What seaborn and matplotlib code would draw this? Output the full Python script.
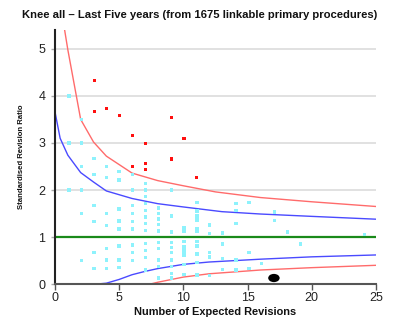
import matplotlib
matplotlib.use("Agg")
import matplotlib.pyplot as plt
from matplotlib.path import Path
from matplotlib.transforms import Affine2D
import seaborn as sns
import pandas as pd

sns.set_theme(style="white")
plt.rcParams['font.family'] = ['Liberation Sans', 'DejaVu Sans']

# ---- data ----
title = "Knee all \u2013 Last Five years (from 1675 linkable primary procedures)"
xlabel = "Number of Expected Revisions"
ylabel = "Standardised Revision Ratio"
xticks = [0, 5, 10, 15, 20, 25]
yticks = [0, 1, 2, 3, 4, 5]

# in-control units, grouped by column of expected revisions
cyan_cols = {
    1.1: [4.0, 3.0, 2.0],
    2.05: [3.5, 3.0, 2.5, 2.0, 1.5, 0.5],
    3.05: [2.67, 2.33, 1.67, 1.33, 0.67, 0.33],
    4.0: [2.5, 2.27, 1.5, 1.25, 0.76, 0.51, 0.33],
    5.0: [2.39, 2.21, 1.6, 1.34, 1.17, 0.81, 0.51, 0.35],
    6.05: [2.33, 2.0, 1.67, 1.5, 1.33, 1.17, 0.83, 0.67, 0.5],
    7.05: [2.14, 2.0, 1.86, 1.71, 1.57, 1.43, 1.29, 1.14, 0.86, 0.71, 0.57, 0.3],
    8.05: [1.62, 1.5, 1.38, 1.27, 1.13, 0.88, 0.76, 0.51, 0.38, 0.13],
    9.05: [2.0, 1.45, 1.11, 0.88, 0.78, 0.67, 0.51, 0.38, 0.23, 0.13],
    10.05: [1.2, 1.13, 0.9, 0.79, 0.7, 0.62, 0.42, 0.21],
    11.05: [1.73, 1.55, 1.45, 1.36, 1.18, 1.13, 0.91, 0.81, 0.64, 0.46, 0.19],
    12.05: [1.26, 1.08, 0.67, 0.58, 0.18],
    13.05: [1.09, 0.85, 0.55, 0.31],
    14.1: [1.71, 1.57, 1.29, 0.51, 0.3],
    15.1: [1.73, 0.67, 0.33],
    16.1: [0.44],
    17.1: [1.53, 1.35],
    18.1: [1.11],
    19.1: [0.85],
    24.1: [1.06],
}

# outlying units (above limits)
red_x = [3.05, 3.05, 4.0, 5.0, 6.05, 7.05, 9.05, 10.05, 9.05, 6.05, 7.05, 7.05, 11.05]
red_y = [4.32, 3.66, 3.74, 3.59, 3.16, 2.99, 3.54, 3.09, 2.66, 2.5, 2.57, 2.43, 2.27]

# highlighted unit
focus_x = [17.05]
focus_y = [0.13]

# control limits
red_up_x = [0.75, 1.0, 2.0, 3.0, 4.0, 6.0, 8.0, 10.0, 12.5, 16.0, 20.0, 25.0]
red_up_y = [5.4, 4.98, 3.5, 3.02, 2.72, 2.36, 2.2, 2.09, 1.96, 1.84, 1.75, 1.65]
blue_up_x = [0, 0.4, 1, 2, 3, 4, 6, 8, 10, 13, 16, 20, 25]
blue_up_y = [3.66, 3.1, 2.74, 2.37, 2.17, 1.98, 1.82, 1.71, 1.64, 1.54, 1.49, 1.44, 1.38]
blue_lo_x = [3.2, 4.0, 5, 6, 7, 8, 10, 12, 16, 20, 25]
blue_lo_y = [0, 0.02, 0.1, 0.2, 0.27, 0.33, 0.42, 0.47, 0.53, 0.58, 0.62]
red_lo_x = [7.4, 8, 10, 12, 16, 20, 25]
red_lo_y = [0, 0.04, 0.15, 0.22, 0.30, 0.35, 0.40]
target_x = [0, 25]
target_y = [1, 1]

# ---- build tables ----
cyan_df = pd.DataFrame(
    [(x, y) for x, ys in cyan_cols.items() for y in ys], columns=["x", "y"])
red_df = pd.DataFrame({"x": red_x, "y": red_y})

fig = plt.figure(figsize=(4, 3.3), dpi=100)
ax = fig.add_axes([0.1375, 0.139, 0.8025, 0.77])

for yy in [2, 3, 4, 5]:
    ax.plot([0, 25], [yy, yy], color="#dcdcdc", lw=1.2, zorder=0)

def line(xs, ys, color, lw):
    sns.lineplot(x=xs, y=ys, sort=False, estimator=None, color=color,
                 lw=lw, ax=ax, zorder=2)

line(red_up_x, red_up_y, "#ff6b6b", 1.0)
line(red_lo_x, red_lo_y, "#ff6b6b", 1.0)
line(blue_up_x, blue_up_y, "#4a4aff", 1.0)
line(blue_lo_x, blue_lo_y, "#4a4aff", 1.0)
line(target_x, target_y, "#1a8a1a", 1.6)

sns.scatterplot(data=cyan_df, x="x", y="y", marker="s", s=6, color="#8ef2fc",
                edgecolor="none", ax=ax, zorder=3)
sns.scatterplot(data=red_df, x="x", y="y", marker="s", s=5, color="#ff1010",
                edgecolor="none", ax=ax, zorder=3)
ellipse = Path.unit_circle().transformed(Affine2D().scale(1.0, 0.72))
sns.scatterplot(x=focus_x, y=focus_y, marker=ellipse, s=68, color="black",
                edgecolor="none", ax=ax, zorder=4)

ax.set_xlim(0, 25)
ax.set_ylim(0, 5.4)
ax.set_xticks(xticks)
ax.set_yticks(yticks)
ax.set_xlabel("")
ax.set_ylabel("")
for s in ["top", "right"]:
    ax.spines[s].set_visible(False)
ax.spines["left"].set_color("#222222")
ax.spines["left"].set_linewidth(1.5)
ax.spines["bottom"].set_color("#555555")
ax.spines["bottom"].set_linewidth(1.5)
ax.tick_params(axis="x", length=4, width=1, color="#555555", labelsize=9,
               labelcolor="#222222", pad=2, bottom=True)
ax.tick_params(axis="y", length=3, width=1, color="#aaaaaa", labelsize=9,
               labelcolor="#222222", pad=4, left=True)

fig.text(0.5, 0.955, title, ha="center", va="center", fontsize=8.1,
         fontweight="bold", color="#111111")
fig.text(0.5375, 0.055, xlabel, ha="center", va="center", fontsize=7.9,
         fontweight="bold", color="#111111")
fig.text(0.055, 0.524, ylabel, ha="center", va="center", fontsize=5.6,
         fontweight="bold", rotation=90, color="#111111")

fig.savefig("out.png", dpi=100)
